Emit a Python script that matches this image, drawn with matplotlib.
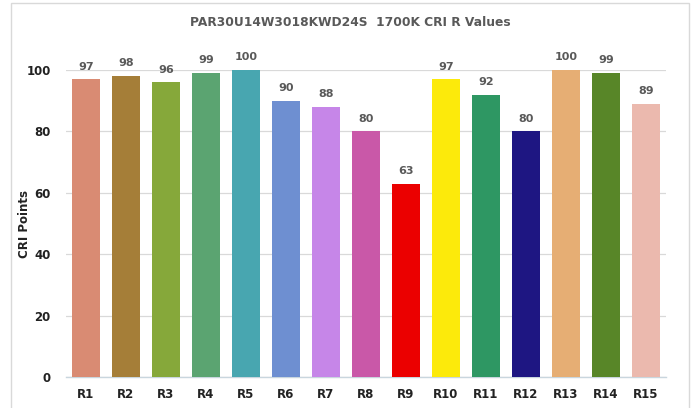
import matplotlib.pyplot as plt
from matplotlib.patches import Rectangle

categories = ["R1", "R2", "R3", "R4", "R5", "R6", "R7", "R8", "R9", "R10",
              "R11", "R12", "R13", "R14", "R15"]
values = [97, 98, 96, 99, 100, 90, 88, 80, 63, 97, 92, 80, 100, 99, 89]
colors = ["#D98B73", "#A57E38", "#86A83A", "#5BA471", "#48A6B0", "#6E8FD1",
          "#C686E8", "#C958A8", "#EB0000", "#FCEA0B", "#2E9763", "#1E1682",
          "#E6AE74", "#588628", "#EBB9AE"]

plt.rcParams['font.family'] = ['DejaVu Sans']

fig = plt.figure(figsize=(6.93, 4.08), dpi=100)
ax = fig.add_axes([66 / 693, 31 / 408, 600 / 693, 307 / 408])

x = range(len(categories))
bars = ax.bar(x, values, width=0.68, color=colors, zorder=3)
for xi, v in zip(x, values):
    ax.text(xi, v + 2.5, str(v), ha="center", va="bottom", fontsize=8,
            fontweight="bold", color="#595959")

ax.set_xlim(-0.5, len(categories) - 0.5)
ax.set_ylim(0, 100)
ax.set_yticks([0, 20, 40, 60, 80, 100])
ax.set_xticks(list(x))
ax.set_xticklabels(categories)
ax.tick_params(axis="x", length=0, labelsize=8.5, colors="#222222", pad=8)
ax.tick_params(axis="y", length=0, labelsize=8.5, colors="#222222", pad=11)
for lab in ax.get_xticklabels() + ax.get_yticklabels():
    lab.set_fontweight("bold")
ax.yaxis.grid(True, color="#D9D9D9", linewidth=0.9, zorder=0)
ax.set_axisbelow(True)
for s in ["top", "right", "left"]:
    ax.spines[s].set_visible(False)
ax.spines["bottom"].set_color("#C9D6DE")
ax.spines["bottom"].set_linewidth(1)
ax.set_ylabel("CRI Points", fontsize=8.5, fontweight="bold", color="#222222")
ax.yaxis.set_label_coords(-0.058, 0.5)

fig.text(350 / 693, 1 - 22 / 408, "PAR30U14W3018KWD24S  1700K CRI R Values",
         ha="center", va="center", fontsize=8.8, fontweight="bold", color="#595959")

fig.patches.append(Rectangle((11 / 693, -0.05), 678 / 693, 1 - 3 / 408 + 0.05,
                             transform=fig.transFigure, fill=False,
                             edgecolor="#D9D9D9", linewidth=1))

fig.savefig("out.png", dpi=100)
